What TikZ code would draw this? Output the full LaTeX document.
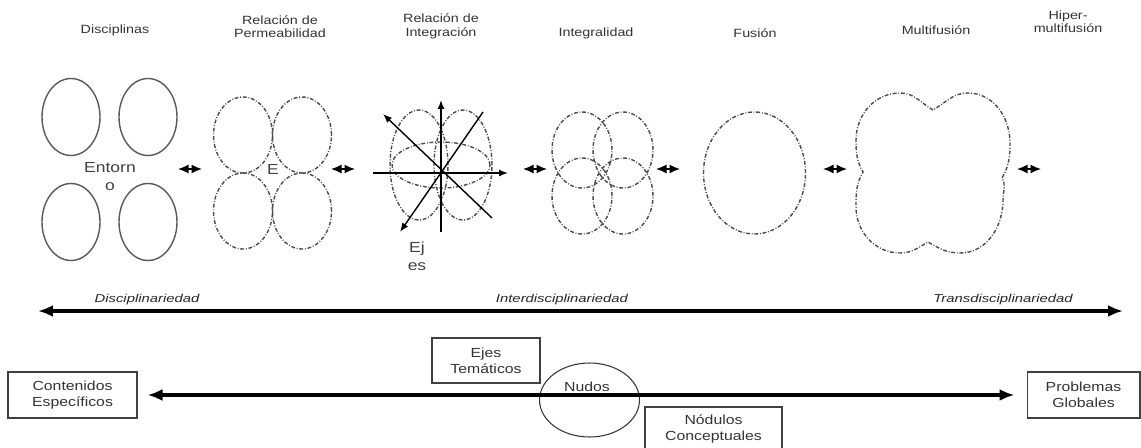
\documentclass[tikz,border=0pt]{standalone}
\usepackage{fontspec}
\setmainfont{Liberation Sans}[FakeStretch=1.2]
\newfontfamily\slfont{Liberation Sans}[FakeStretch=1.3]
\usetikzlibrary{arrows.meta,shapes.geometric}

\begin{document}
\begin{tikzpicture}[x=0.02cm, y=0.02cm,
	ttl/.style={font=\fontsize{6.8}{7.6}\selectfont, text=black!80, align=center, inner sep=0},
	big/.style={font=\fontsize{8.3}{10.2}\selectfont, text=black!75, align=center, inner sep=0},
	lvl/.style={font=\slfont\itshape\fontsize{6.5}{8}\selectfont, text=black!85, inner sep=0},
	box/.style={draw=black!75, line width=0.6pt, font=\fontsize{7.5}{9.1}\selectfont, text=black!80, align=center, inner sep=0},
	disc/.style={draw=black!65, line width=0.8pt},
	dd/.style={draw=black!70, line width=0.8pt, dash pattern=on 2.2pt off 1pt on 0.5pt off 1pt},
	axis/.style={line width=0.8pt, -{Latex[length=1.8mm,width=1.4mm]}},
	dbl/.style={line width=0.8pt, {Latex[length=2.1mm,width=1.8mm]}-{Latex[length=2.1mm,width=1.8mm]}},
	main/.style={line width=2pt, {Latex[length=3mm,width=2.4mm]}-{Latex[length=3mm,width=2.4mm]}}]
\useasboundingbox (0,0) rectangle (1141,447);

% titles
\node[ttl] (tdis) at (115,417) {Disciplinas};
\node[ttl] (tper) at (280,420.5) {Relación de\\Permeabilidad};
\node[ttl] (tint) at (441,420.5) {Relación de\\Integración};
\node[ttl] (tinl) at (596,414) {Integralidad};
\node[ttl] (tfus) at (755,414) {Fusión};
\node[ttl] (tmul) at (936,417) {Multifusión};
\node[ttl] (thip) at (1068,425) {Hiper-\\multifusión};

% disciplinas
\draw[disc] (71,330) ellipse [x radius=29, y radius=38.5]; % TL
\draw[disc] (148,330) ellipse [x radius=29, y radius=38.5]; % TR
\draw[disc] (71,225) ellipse [x radius=29, y radius=38.5]; % BL
\draw[disc] (148,225) ellipse [x radius=29, y radius=38.5]; % BR
\node[big] (ento) at (110,270) {Entorn\\o};

% permeabilidad
\draw[dd] (243,312) ellipse [x radius=29.5, y radius=38];
\draw[dd] (302,312) ellipse [x radius=29.5, y radius=38];
\draw[dd] (243,236) ellipse [x radius=29.5, y radius=38];
\draw[dd] (302,236) ellipse [x radius=29.5, y radius=38];
\node[big] (per) at (273,278) {E};

% integracion
\draw[dd] (419,282) ellipse [x radius=29, y radius=55];
\draw[dd] (463,282) ellipse [x radius=29, y radius=55];
\draw[dd] (441,282) ellipse [x radius=49, y radius=23];
\coordinate (vb) at (441,215); \coordinate (vt) at (441,347);
\coordinate (hl) at (373,274); \coordinate (hr) at (508,274);
\coordinate (se) at (492,229); \coordinate (nw) at (383,333);
\coordinate (ne) at (483,335); \coordinate (sw) at (400,215);
\draw[axis] (vb) -- (vt);
\draw[axis] (hl) -- (hr);
\draw[axis] (se) -- (nw);
\draw[axis] (ne) -- (sw);
\node[big] (ejs) at (417,191) {Ej\\es};

% integralidad
\draw[dd] (582,297) ellipse [x radius=30, y radius=38];
\draw[dd] (623,297) ellipse [x radius=30, y radius=38];
\draw[dd] (582,251) ellipse [x radius=30, y radius=38];
\draw[dd] (623,251) ellipse [x radius=30, y radius=38];

% fusion
\draw[dd] (754.5,274) ellipse [x radius=51, y radius=61];

% multifusion
\draw[dd] (933,337) to[out=150,in=0] (900,354) to[out=180,in=90] (856,307)
	to[out=-90,in=120] (863,275) to[out=-120,in=90] (856,240)
	to[out=-90,in=180] (900,194) to[out=0,in=-150] (928,205)
	to[out=-30,in=180] (960,194) to[out=0,in=-90] (1003,247)
	to[out=90,in=-60] (1002,269) to[out=60,in=-90] (1010,304)
	to[out=90,in=0] (968,354) to[out=180,in=30] cycle;

% small double arrows
\foreach \n/\x in {1/190,2/343,3/535,4/668,5/835,6/1029} {
	\coordinate (dl\n) at (\x-12,278);
	\coordinate (dr\n) at (\x+12,278);
	\draw[dbl] (dl\n) -- (dr\n);
}

% levels
\coordinate (ml) at (38,136); \coordinate (mr) at (1123,136);
\draw[main] (ml) -- (mr);
\node[lvl] (ldis) at (147,147) {Disciplinariedad};
\node[lvl] (lint) at (562,147) {Interdisciplinariedad};
\node[lvl] (ltra) at (1003,147) {Transdisciplinariedad};

% bottom row
\node[box, minimum width=2.58cm, minimum height=0.92cm] (cont) at (72.5,52) {Contenidos\\Específicos};
\node[box, minimum width=2.26cm, minimum height=0.92cm] (prob) at (1083.5,52) {Problemas\\Globales};
\node[box, minimum width=2.16cm, minimum height=0.9cm] (ejes) at (486,86.5) {Ejes\\Temáticos};
\node[box, minimum width=2.74cm, minimum height=0.88cm] (nodu) at (713.5,18) {Nódulos\\Conceptuales};
\node[draw=black!80, line width=0.6pt, ellipse, minimum width=2cm, minimum height=1.48cm, inner sep=0] (nudo) at (589.5,47) {};
\node[font=\fontsize{7.5}{9.1}\selectfont, text=black!80, inner sep=0] (nudt) at (587,60) {Nudos};
\draw[main, shorten <=0.2cm, shorten >=0.24cm] (cont) -- (prob);
\end{tikzpicture}
\end{document}
